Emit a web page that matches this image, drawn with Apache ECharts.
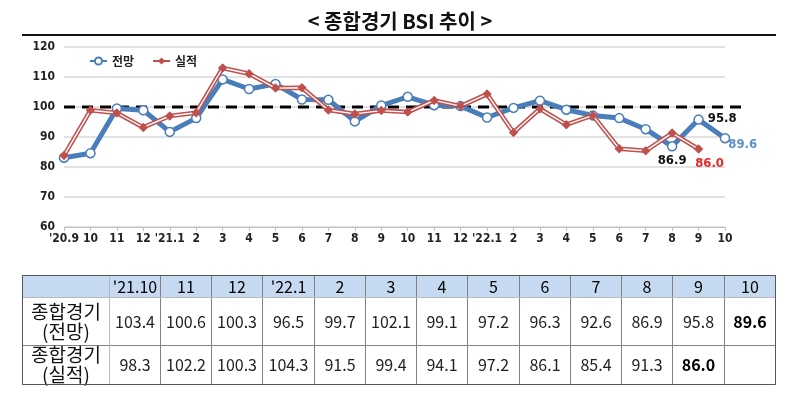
<!DOCTYPE html>
<html><head><meta charset="utf-8">
<script src="https://cdn.jsdelivr.net/npm/echarts@6/dist/echarts.min.js"></script>
<style>html,body{margin:0;padding:0;background:#fff}#c{width:800px;height:405px}</style>
</head><body><div id="c"></div>
<script>
const titleText = '< 종합경기 BSI 추이 >';
const categories = ["'20.9","10","11","12","'21.1","2","3","4","5","6","7","8","9","10","11","12","'22.1","2","3","4","5","6","7","8","9","10"];
const forecast = [83.1, 84.6, 99.5, 98.9, 91.7, 96.3, 109.2, 106.0, 107.7, 102.5, 102.4, 95.2, 100.5, 103.4, 100.6, 100.3, 96.5, 99.7, 102.1, 99.1, 97.2, 96.3, 92.6, 86.9, 95.8, 89.6];
const actual = [83.8, 98.9, 98.0, 93.2, 97.0, 98.1, 113.0, 111.1, 106.3, 106.4, 99.0, 97.7, 98.8, 98.3, 102.2, 100.3, 104.3, 91.5, 99.4, 94.1, 97.2, 86.1, 85.4, 91.3, 86.0, null];
const refValue = 100;
const tableHeaders = ["'21.10","11","12","'22.1","2","3","4","5","6","7","8","9","10"];
const tableRows = ['종합경기\n(전망)', '종합경기\n(실적)'];
const tableStart = 13;

const BLUE = '#4a7ebb', RED = '#c0504d';
const numFont = "'Liberation Sans Narrow','DejaVu Sans Condensed','Roboto',sans-serif";
const krFont = "'Noto Sans CJK KR','Noto Sans',sans-serif";
const fmt1 = p => Number(p.value).toFixed(1);

const lastF = forecast.length - 1;
const lastA = actual.length - 2;
const fData = forecast.map((v, i) => {
  if (i === lastF) return {value: v, label: {show: true, position: 'right', offset: [-7, 6], color: '#5b8fc7'}};
  if (i === lastF - 1) return {value: v, label: {show: true, position: 'right', offset: [-1, -1], color: '#111'}};
  if (i === lastF - 2) return {value: v, label: {show: true, position: 'bottom', distance: 3, color: '#111'}};
  return v;
});
const aSym = actual.map((v, i) => {
  if (i === lastA) return {value: v, label: {show: true, position: 'bottom', offset: [11, -1], color: '#e02828'}};
  return v;
});

const bodyData = [];
tableHeaders.forEach((h, c) => {
  const f = forecast[tableStart + c];
  const a = actual[tableStart + c];
  const boldF = (tableStart + c) === lastF;
  const boldA = (tableStart + c) === lastA;
  bodyData.push({coord: [c, 0], value: f == null ? '' : f.toFixed(1), label: boldF ? {fontWeight: 'bold', color: '#000'} : undefined});
  bodyData.push({coord: [c, 1], value: a == null ? '' : a.toFixed(1), label: boldA ? {fontWeight: 'bold', color: '#000'} : undefined});
});

const chart = echarts.init(document.getElementById('c'), null, {renderer: 'canvas'});
chart.setOption({
  animation: false,
  title: {text: titleText, left: 'center', top: 6, textStyle: {fontFamily: krFont, fontSize: 20, fontWeight: 'bold', color: '#111'}},
  graphic: [{type: 'rect', left: 22, top: 34, shape: {width: 754, height: 2}, style: {fill: '#111'}}],
  legend: {
    data: ['전망', '실적'], left: 84, top: 50, itemWidth: 17, itemHeight: 9, itemGap: 18,
    textStyle: {fontFamily: krFont, fontSize: 12, fontWeight: 'bold', color: '#222'}
  },
  grid: [
    {left: 64, right: 75, top: 47, bottom: 178},
    {left: 64, right: 53, top: 47, bottom: 178}
  ],
  xAxis: [
    {type: 'category', gridIndex: 0, data: categories, boundaryGap: false,
      axisLine: {lineStyle: {color: '#bfbfbf', width: 1}},
      axisTick: {show: true, length: 4, lineStyle: {color: '#bfbfbf'}},
      axisLabel: {interval: 0, margin: 6, fontFamily: numFont, fontSize: 12, fontWeight: 'bold', color: '#222'}},
    {type: 'value', gridIndex: 1, min: 0, max: 1, show: false}
  ],
  yAxis: [
    {type: 'value', gridIndex: 0, min: 60, max: 120, interval: 10,
      axisLine: {show: false}, axisTick: {show: false},
      splitLine: {lineStyle: {color: '#d9d9d9', width: 1.5}},
      axisLabel: {margin: 9, fontFamily: numFont, fontSize: 12, fontWeight: 'bold', color: '#222'}},
    {type: 'value', gridIndex: 1, min: 60, max: 120, show: false}
  ],
  series: [
    {name: 'ref', type: 'line', xAxisIndex: 1, yAxisIndex: 1, data: [[0, refValue], [1, refValue]],
      symbol: 'none', lineStyle: {color: '#000', width: 3, type: [11, 7]}, z: 1, silent: true},
    {name: '전망', type: 'line', data: fData, symbol: 'circle', symbolSize: 9,
      itemStyle: {color: '#fff', borderColor: BLUE, borderWidth: 1.5},
      lineStyle: {color: BLUE, width: 5},
      label: {show: false, formatter: fmt1, fontFamily: numFont, fontSize: 13, fontWeight: 'bold'}, z: 3},
    {name: '실적', type: 'line', data: actual, symbol: 'diamond', symbolSize: 9,
      itemStyle: {color: RED, borderColor: RED, borderWidth: 0},
      lineStyle: {color: RED, width: 4.5}, z: 4},
    {name: '실적-inner', type: 'line', data: actual, symbol: 'none',
      lineStyle: {color: '#fff', width: 1.4}, z: 5, silent: true},
    {name: '실적-sym', type: 'line', data: aSym, symbol: 'diamond', symbolSize: 9,
      itemStyle: {color: RED}, lineStyle: {width: 0, opacity: 0},
      label: {show: false, formatter: fmt1, fontFamily: numFont, fontSize: 13, fontWeight: 'bold'}, z: 6}
  ],
  matrix: {
    left: 22, right: 25, top: 275, bottom: 21,
    x: {
      data: tableHeaders, levelSize: 22,
      itemStyle: {color: '#c5d9f1', borderColor: '#808080', borderWidth: 1},
      label: {fontFamily: krFont, fontSize: 16, color: '#000'}
    },
    y: {
      data: tableRows.map((r, i) => ({value: r, size: i === 0 ? 48 : 39})), levelSize: 87,
      itemStyle: {color: '#fff', borderColor: '#808080', borderWidth: 1},
      label: {fontFamily: krFont, fontSize: 19, lineHeight: 20, color: '#111', overflow: 'none', lineOverflow: 'none', padding: 0}
    },
    corner: {itemStyle: {color: '#c5d9f1', borderColor: '#808080', borderWidth: 1}},
    body: {
      data: bodyData,
      itemStyle: {color: '#fff', borderColor: '#808080', borderWidth: 1},
      label: {fontFamily: krFont, fontSize: 16, color: '#222'}
    }
  }
});
</script></body></html>
